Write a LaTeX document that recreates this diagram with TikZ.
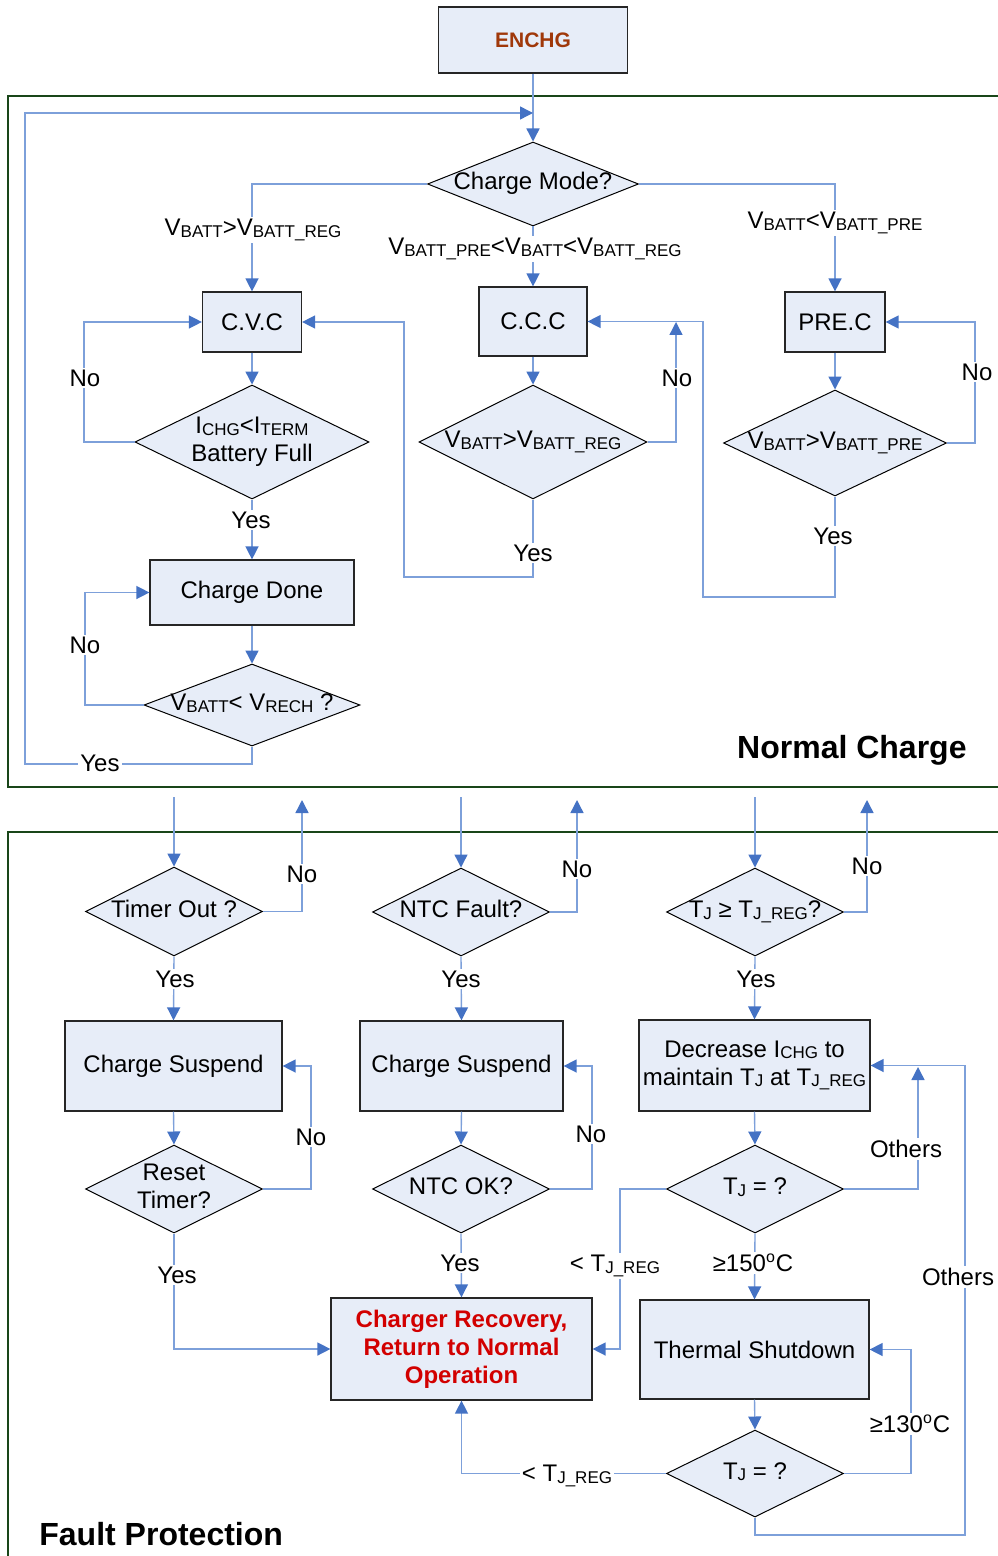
\documentclass[tikz,border=0pt]{standalone}
\usepackage{fontspec}
\setmainfont{Liberation Sans}
\usetikzlibrary{arrows.meta,shapes.geometric}
\definecolor{boxfill}{RGB}{231,237,248}
\definecolor{linec}{RGB}{125,160,218}
\definecolor{tipc}{RGB}{68,114,196}
\definecolor{frameg}{RGB}{25,70,25}
\definecolor{enchgc}{RGB}{160,56,10}
\definecolor{recc}{RGB}{210,0,0}
\newcommand{\subx}[1]{\raisebox{-0.8pt}{\fontsize{8.5}{9}\selectfont #1}}
\newcommand{\dtxt}[1]{\makebox[0pt]{\begin{tabular}{@{}c@{}}#1\end{tabular}}}
\newcommand{\fsz}{\fontsize{12}{14}\selectfont}
\tikzset{
  box/.style={rectangle, draw=black!85, fill=boxfill, line width=0.6pt, inner sep=0pt, align=center, font=\fsz},
  dia/.style={diamond, draw=black, fill=boxfill, line width=0.5pt, inner sep=0pt, font=\fsz},
  conn/.style={draw=linec, line width=0.7pt, -{Triangle[length=6.5pt,width=6.5pt,color=tipc]}},
  plainline/.style={draw=linec, line width=0.7pt},
  lbl/.style={fill=white, inner sep=1pt, font=\fsz},
  frame/.style={draw=frameg, line width=1pt},
}
\begin{document}
\begin{tikzpicture}[x=0.5pt,y=-0.5pt]
\useasboundingbox (0,0) rectangle (997,1556);
% frames
\draw[frame] (1000,96) -- (8,96) -- (8,787) -- (1000,787);
\draw[frame] (1000,832) -- (8,832) -- (8,1560);

% ---------- Normal charge ----------
\node[box, minimum width=94.5pt, minimum height=33pt, font=\fontsize{10.5}{12}\selectfont\bfseries, text=enchgc] (enchg) at (533,40) {ENCHG};
\node[dia, minimum width=105.5pt, minimum height=42pt] (cm) at (533,184) {\dtxt{Charge Mode?}};
\node[box, minimum width=49.5pt, minimum height=30pt] (cvc) at (252,322) {C.V.C};
\node[box, minimum width=54pt, minimum height=34.5pt] (ccc) at (533,321.5) {C.C.C};
\node[box, minimum width=50pt, minimum height=30pt] (prec) at (835,322) {PRE.C};
\node[dia, minimum width=117pt, minimum height=57pt] (ichg) at (252,442) {\dtxt{I\subx{CHG}<I\subx{TERM}\\Battery Full}};
\node[dia, minimum width=114pt, minimum height=57pt] (dreg) at (533,442) {\dtxt{V\subx{BATT}>V\subx{BATT\_REG}}};
\node[dia, minimum width=111.5pt, minimum height=53pt] (dpre) at (835,443) {\dtxt{V\subx{BATT}>V\subx{BATT\_PRE}}};
\node[box, minimum width=102pt, minimum height=32.5pt] (done) at (252,592.5) {Charge Done};
\node[dia, minimum width=108pt, minimum height=41pt] (rech) at (252,705) {\dtxt{V\subx{BATT}< V\subx{RECH} ?}};

\coordinate (jn) at (533,113);
\draw[conn] (enchg.south) -- (cm.north);
\draw[conn] (rech.south) |- (25,764) |- (jn);
\node[lbl] (l1) at (100,763) {Yes};

\draw[conn] (cm.west) -| (cvc.north);
\node[lbl] (l2) at (253,230) {V\subx{BATT}>V\subx{BATT\_REG}};
\draw[conn] (cm.south) -- (ccc.north);
\node[lbl] (l3) at (535,249) {V\subx{BATT\_PRE}<V\subx{BATT}<V\subx{BATT\_REG}};
\draw[conn] (cm.east) -| (prec.north);
\node[lbl] (l4) at (835,223) {V\subx{BATT}<V\subx{BATT\_PRE}};

\draw[conn] (cvc.south) -- (ichg.north);
\draw[conn] (ichg.west) -- (84,442) |- (cvc.west);
\node[lbl] (l5) at (85,378) {No};
\draw[conn] (ichg.south) -- (done.north);
\node[lbl] (l6) at (251,520) {Yes};
\draw[conn] (done.south) -- (rech.north);
\draw[conn] (rech.west) -- (85,705) |- (done.west);
\node[lbl] (l7) at (85,645) {No};

\coordinate (cccn) at (676,322);
\draw[conn] (ccc.south) -- (dreg.north);
\draw[conn] (dreg.east) -- (676,442) -- (cccn);
\node[lbl] (l8) at (677,378) {No};
\draw[conn] (dreg.south) |- (404,577) |- (cvc.east);
\node[lbl] (l9) at (533,553) {Yes};

\draw[conn] (prec.south) -- (dpre.north);
\draw[conn] (dpre.east) -- (975,443) |- (prec.east);
\node[lbl] (l10) at (977,372) {No};
\draw[conn] (dpre.south) |- (703,597) |- (ccc.east);
\node[lbl] (l11) at (833,536) {Yes};

\node[font=\fontsize{16}{18}\selectfont\bfseries, anchor=east, inner sep=0pt] (nc) at (967,750) {Normal Charge};

% ---------- Fault protection ----------
\node[dia, minimum width=88.5pt, minimum height=44.5pt] (tout) at (174,911.5) {\dtxt{Timer Out ?}};
\node[dia, minimum width=88.5pt, minimum height=44pt] (ntcf) at (461,912) {\dtxt{NTC Fault?}};
\node[dia, minimum width=88.5pt, minimum height=44pt] (tjr) at (755,912) {\dtxt{T\subx{J} ≥ T\subx{J\_REG}?}};
\node[box, minimum width=108.5pt, minimum height=45pt] (cs1) at (173.5,1066) {Charge Suspend};
\node[box, minimum width=101.5pt, minimum height=45pt] (cs2) at (461.5,1066) {Charge Suspend};
\node[box, minimum width=115.5pt, minimum height=45.5pt] (dec) at (754.5,1065.5) {Decrease I\subx{CHG} to\\maintain T\subx{J} at T\subx{J\_REG}};
\node[dia, minimum width=88.5pt, minimum height=44pt] (reset) at (174,1189) {\dtxt{Reset\\Timer?}};
\node[dia, minimum width=88.5pt, minimum height=44pt] (ntcok) at (461,1189) {\dtxt{NTC OK?}};
\node[dia, minimum width=88.5pt, minimum height=44pt] (tj1) at (755,1189) {\dtxt{T\subx{J} = ?}};
\node[box, minimum width=130.5pt, minimum height=51pt, font=\fsz\bfseries, text=recc] (rec) at (461.5,1349) {Charger Recovery,\\Return to Normal\\Operation};
\node[box, minimum width=114.5pt, minimum height=49.5pt] (ts) at (754.5,1349.5) {Thermal Shutdown};
\node[dia, minimum width=88.5pt, minimum height=43.5pt] (tj2) at (755,1473.5) {\dtxt{T\subx{J} = ?}};

\coordinate (s1) at (174,797);
\coordinate (s2) at (461,797);
\coordinate (s3) at (755,797);
\coordinate (u1) at (302,800);
\coordinate (u2) at (577,800);
\coordinate (u3) at (867,800);
\coordinate (oj) at (918,1067);

\draw[conn] (s1) -- (tout.north);
\draw[conn] (tout.east) -| (u1);
\node[lbl] (m1) at (302,874) {No};
\draw[conn] (tout.south) -- (cs1.north);
\node[lbl] (m2) at (175,979) {Yes};
\draw[conn] (cs1.south) -- (reset.north);
\draw[conn] (reset.east) -- (311,1189) |- (cs1.east);
\node[lbl] (m3) at (311,1137) {No};
\draw[conn] (reset.south) |- (rec.west);
\node[lbl] (m4) at (177,1275) {Yes};

\draw[conn] (s2) -- (ntcf.north);
\draw[conn] (ntcf.east) -| (u2);
\node[lbl] (m5) at (577,869) {No};
\draw[conn] (ntcf.south) -- (cs2.north);
\node[lbl] (m6) at (461,979) {Yes};
\draw[conn] (cs2.south) -- (ntcok.north);
\draw[conn] (ntcok.east) -- (592,1189) |- (cs2.east);
\node[lbl] (m7) at (591,1134) {No};
\draw[conn] (ntcok.south) -- (rec.north);
\node[lbl] (m8) at (460,1263) {Yes};

\draw[conn] (s3) -- (tjr.north);
\draw[conn] (tjr.east) -| (u3);
\node[lbl] (m9) at (867,866) {No};
\draw[conn] (tjr.south) -- (dec.north);
\node[lbl] (m10) at (756,979) {Yes};
\draw[conn] (dec.south) -- (tj1.north);
\draw[conn] (tj1.east) -| (oj);
\node[lbl] (m11) at (906,1149) {Others};
\draw[conn] (tj1.west) -- (620,1189) |- (rec.east);
\node[lbl] (m12) at (615,1266) {< T\subx{J\_REG}};
\draw[conn] (tj1.south) -- (ts.north);
\node[lbl] (m13) at (753,1263) {≥150\textsuperscript{o}C};
\draw[conn] (ts.south) -- (tj2.north);
\draw[conn] (tj2.east) -- (911,1473.5) |- (ts.east);
\node[lbl] (m14) at (910,1424) {≥130\textsuperscript{o}C};
\draw[conn] (tj2.west) -| (rec.south);
\node[lbl] (m15) at (567,1476) {< T\subx{J\_REG}};
\draw[conn] (tj2.south) |- (965,1535) |- (dec.east);
\node[lbl] (m16) at (958,1277) {Others};

\node[font=\fontsize{16}{18}\selectfont\bfseries, anchor=west, inner sep=0pt] (fp) at (39,1534) {Fault Protection};
\end{tikzpicture}
\end{document}
